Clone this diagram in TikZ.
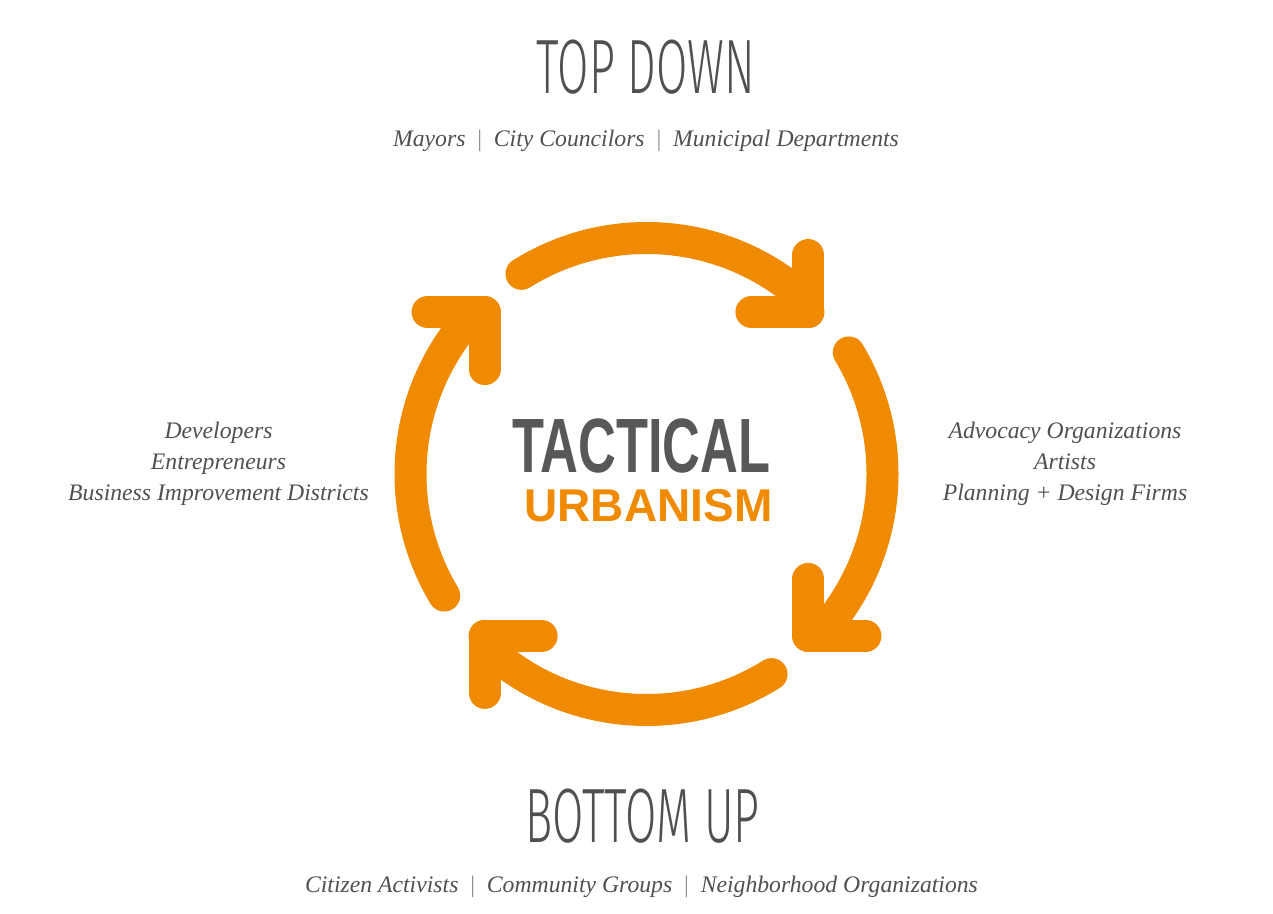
\documentclass[tikz,border=0pt]{standalone}
\usepackage{fontspec}
\setmainfont{Liberation Serif}
\newfontfamily\headfont{Liberation Sans}
\newfontfamily\thinfont{Fira Sans Light}
\usetikzlibrary{calc}
\definecolor{tuorange}{HTML}{F08A00}
\definecolor{tugray}{HTML}{505050}
\definecolor{tacgray}{HTML}{58585A}
\definecolor{barcol}{HTML}{8C8C8C}
\newcommand{\barsep}{{\color{barcol}\upshape\ \ \textbar\ \ }}

\begin{document}
\begin{tikzpicture}[x=1pt,y=1pt,
    loop/.style={draw=tuorange,line width=32pt,line cap=round,line join=round},
    head/.style={font=\thinfont\fontsize{77}{77}\selectfont,text=tugray,xscale=0.59,inner sep=0pt},
    who/.style={font=\itshape\fontsize{23.7}{31}\selectfont,text=tugray,align=center,inner sep=0pt}]
  \useasboundingbox (0,0) rectangle (1273,913);
  \coordinate (hub) at (646.5,439);
  \foreach \s/\e in {122/45,31/-45,-58/-135,-149/-225}{
    \draw[loop] (hub) ++(\s:236) arc[start angle=\s,end angle=\e+3,radius=236] -- ($(hub)+(\e:229)$);
    \draw[loop] (hub) ++(\e:229) ++(\e+45:57) -- ++(\e+225:57) -- ++(\e+135:57);
  }
  \node[head] (top) at (646,845.5) {TOP DOWN};
  \node[who,anchor=base] (topwho) at (646,766) {Mayors\barsep City Councilors\barsep Municipal Departments};
  \node[head] (bottom) at (642.5,96.5) {BOTTOM UP};
  \node[who,anchor=base] (bottomwho) at (641.5,21) {Citizen Activists\barsep Community Groups\barsep Neighborhood Organizations};
  \node[who] (leftwho) at (218.5,449) {Developers\\Entrepreneurs\\Business Improvement Districts};
  \node[who] (rightwho) at (1065,449) {Advocacy Organizations\\Artists\\Planning + Design Firms};
  \node[font=\headfont\bfseries\fontsize{77}{77}\selectfont,text=tacgray,xscale=0.68,inner sep=0pt] (tac) at (641.5,467) {TACTICAL};
  \node[font=\headfont\bfseries\fontsize{46}{46}\selectfont,text=tuorange,inner sep=0pt] (urb) at (648.5,407) {URBANISM};
\end{tikzpicture}
\end{document}
